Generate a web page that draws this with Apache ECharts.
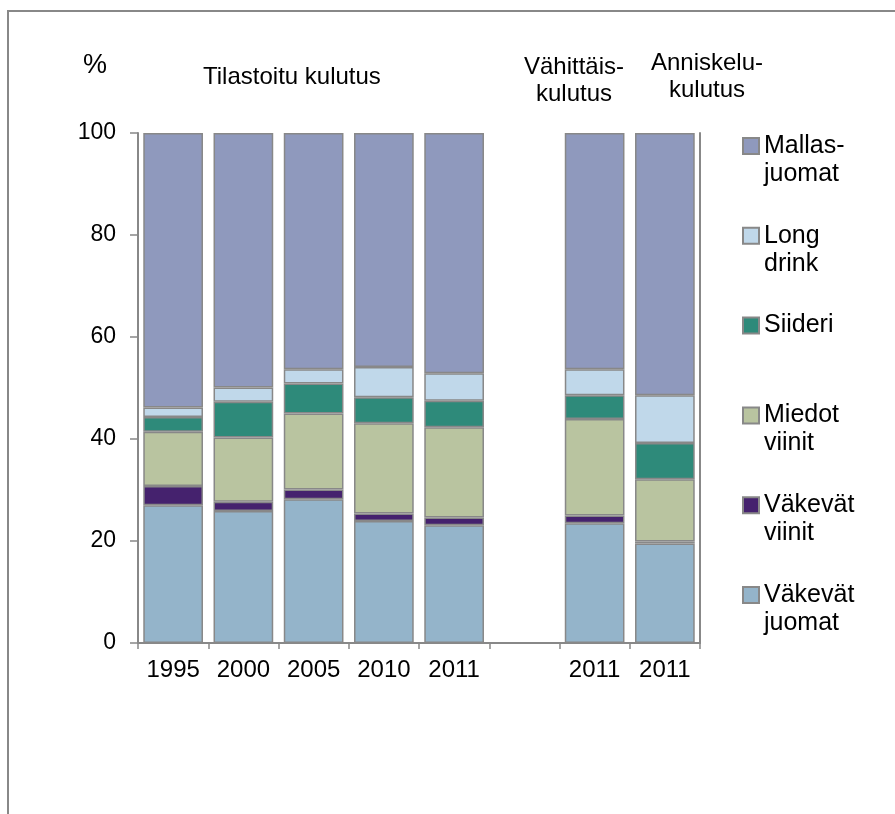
<!DOCTYPE html>
<html>
<head>
<meta charset="utf-8">
<script src="https://cdn.jsdelivr.net/npm/echarts@6/dist/echarts.min.js"></script>
<style>
  html, body { margin: 0; padding: 0; background: #fff; }
  #chart { width: 895px; height: 814px; }
</style>
</head>
<body>
<div id="chart"></div>
<script>
const categories = ['1995', '2000', '2005', '2010', '2011', '', '2011', '2011']

// osuudet (%) alhaalta ylös; tyhjä väli kohdassa 6
const vakevatJuomat = [27.0, 25.9, 28.2, 23.9, 23.1, null, 23.5, 19.5]
const vakevatViinit = [3.8, 1.8, 1.9, 1.5, 1.5, null, 1.5, 0.4]
const miedotViinit = [10.6, 12.6, 14.9, 17.7, 17.7, null, 18.9, 12.2]
const siideri = [2.9, 7.0, 5.9, 5.1, 5.2, null, 4.7, 7.1]
const longDrink = [1.9, 2.8, 2.8, 5.9, 5.4, null, 5.1, 9.4]
const mallasjuomat = [53.8, 49.9, 46.3, 45.9, 47.1, null, 46.3, 51.4]

const yTicks = [0, 20, 40, 60, 80, 100]

const seriesDefs = [
  { name: 'Väkevät\njuomat', data: vakevatJuomat, color: '#94b4ca' },
  { name: 'Väkevät\nviinit', data: vakevatViinit, color: '#45226e' },
  { name: 'Miedot\nviinit', data: miedotViinit, color: '#b9c4a0' },
  { name: 'Siideri\n ', data: siideri, color: '#2e8a7a' },
  { name: 'Long\ndrink', data: longDrink, color: '#c0d8ea' },
  { name: 'Mallas-\njuomat', data: mallasjuomat, color: '#8f99bd' }
]

const font = '"Liberation Sans", Arial, sans-serif'

const chart = echarts.init(document.getElementById('chart'), null, { renderer: 'canvas' })

chart.setOption({
  animation: false,
  backgroundColor: '#fff',
  grid: { left: 138, right: 195, top: 133, bottom: 171, containLabel: false },
  xAxis: {
    type: 'category',
    data: categories,
    axisLine: { lineStyle: { color: '#888', width: 2 } },
    axisTick: { show: true, length: 6, lineStyle: { color: '#888', width: 1.5 } },
    axisLabel: { color: '#000', fontSize: 24, fontFamily: font, margin: 15 }
  },
  yAxis: [
    {
      type: 'value',
      min: yTicks[0],
      max: yTicks[yTicks.length - 1],
      interval: 20,
      axisLine: { show: true, lineStyle: { color: '#888', width: 2 } },
      axisTick: { show: true, length: 8, lineStyle: { color: '#888', width: 1.5 } },
      axisLabel: { color: '#000', fontSize: 23, fontFamily: font, margin: 22 },
      splitLine: { show: false }
    },
    {
      type: 'value',
      position: 'right',
      min: 0,
      max: 100,
      axisLine: { show: true, lineStyle: { color: '#888', width: 2 } },
      axisTick: { show: false },
      axisLabel: { show: false },
      splitLine: { show: false }
    }
  ],
  legend: {
    left: 737,
    top: 126,
    orient: 'vertical',
    data: seriesDefs.map((s) => s.name).reverse(),
    itemWidth: 16,
    itemHeight: 56,
    itemGap: 31.8,
    icon: 'path://M0,0M0,6L16,6L16,22L0,22Z M16,56',
    textStyle: { color: '#000', fontSize: 25, fontFamily: font, lineHeight: 28 }
  },
  graphic: [
    {
      type: 'rect',
      shape: { x: 8, y: 11, width: 1000, height: 1000 },
      style: { fill: 'none', stroke: '#888', lineWidth: 2 },
      silent: true
    },
    {
      type: 'text',
      x: 95, y: 66,
      style: { text: '%', fontSize: 27, fontFamily: font, fill: '#000', align: 'center', verticalAlign: 'middle' }
    },
    {
      type: 'text',
      x: 203, y: 77,
      style: { text: 'Tilastoitu kulutus', fontSize: 24, fontFamily: font, fill: '#000', align: 'left', verticalAlign: 'middle' }
    },
    {
      type: 'text',
      x: 574, y: 81,
      style: { text: 'Vähittäis-\nkulutus', fontSize: 24, fontFamily: font, lineHeight: 27, fill: '#000', align: 'center', verticalAlign: 'middle' }
    },
    {
      type: 'text',
      x: 707, y: 77,
      style: { text: 'Anniskelu-\nkulutus', fontSize: 24, fontFamily: font, lineHeight: 27, fill: '#000', align: 'center', verticalAlign: 'middle' }
    }
  ],
  series: seriesDefs.map((s) => ({
    name: s.name,
    type: 'bar',
    stack: 'total',
    barWidth: '85%',
    data: s.data,
    itemStyle: { color: s.color, borderColor: '#888', borderWidth: 1.5 },
    emphasis: { disabled: true }
  }))
})
</script>
</body>
</html>
